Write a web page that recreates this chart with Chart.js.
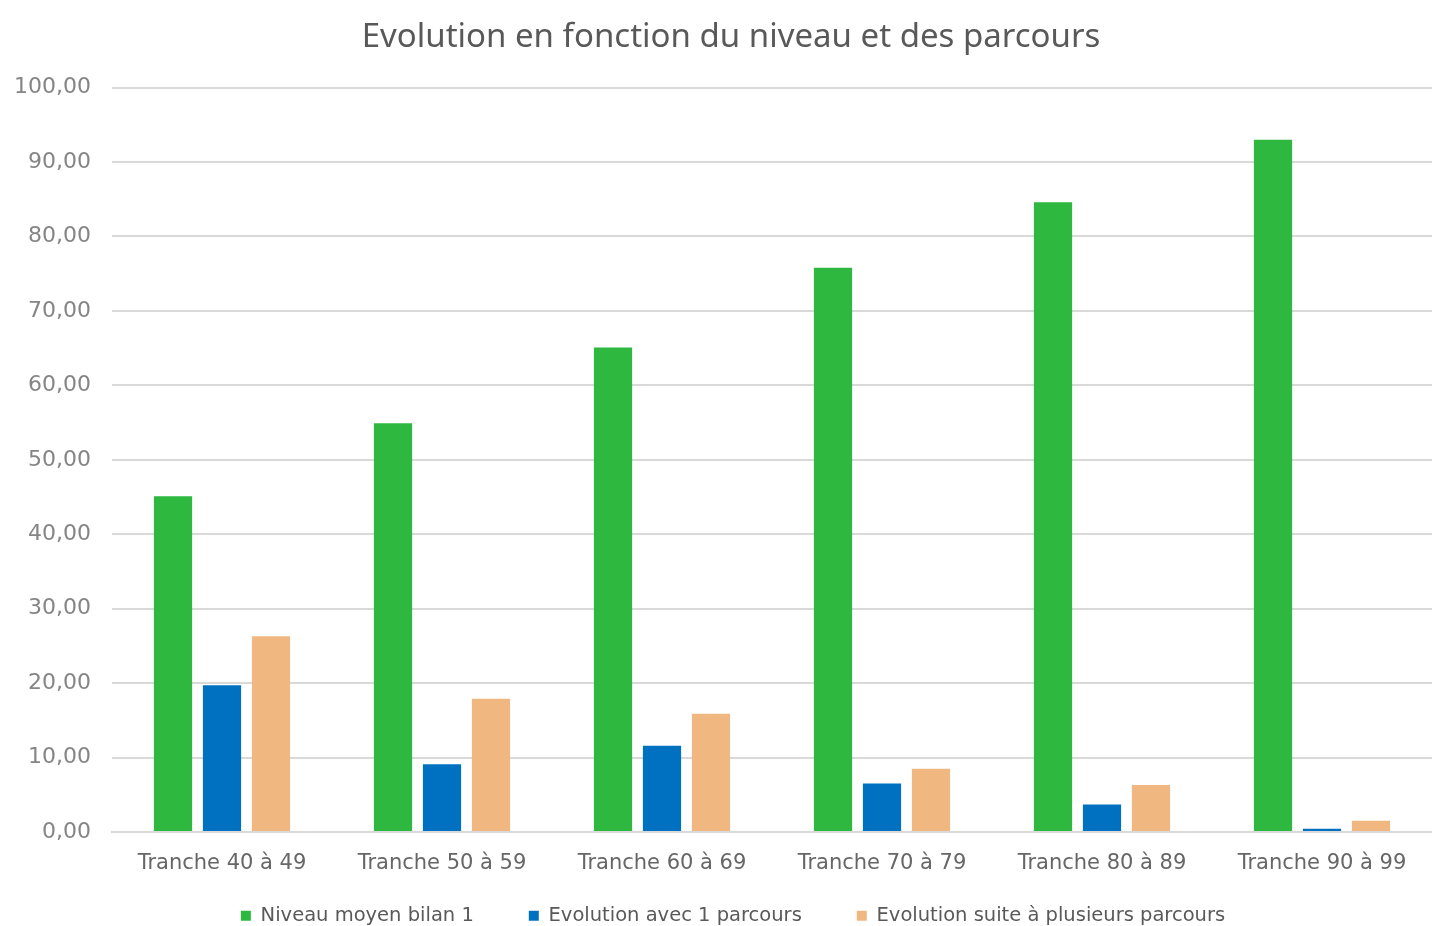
<!DOCTYPE html>
<html>
<head>
<meta charset="utf-8">
<script src="https://cdn.jsdelivr.net/npm/chart.js@4"></script>
<style>
  html, body { margin: 0; padding: 0; background: #fff; }
  #wrap { width: 1432px; height: 926px; position: relative; }
</style>
</head>
<body>
<div id="wrap"><canvas id="myChart"></canvas></div>
<script>
// data
const labels = ['Tranche 40 à 49', 'Tranche 50 à 59', 'Tranche 60 à 69', 'Tranche 70 à 79', 'Tranche 80 à 89', 'Tranche 90 à 99'];
const niveauMoyen = [45.1, 54.9, 65.1, 75.8, 84.6, 93.0];
const evolUnParcours = [19.7, 9.1, 11.6, 6.5, 3.7, 0.45];
const evolPlusieurs = [26.3, 17.9, 15.9, 8.5, 6.3, 1.5];

const seriesNames = ['Niveau moyen bilan 1', 'Evolution avec 1 parcours', 'Evolution suite à plusieurs parcours'];
const colors = ['#2eb840', '#0070c0', '#f0b780'];

const titleFont = "'Noto Sans', sans-serif";
const textFont = "'DejaVu Sans', sans-serif";

// legend: wide gaps between items but a short layout box,
// then stretch its (clipped) box upwards so the row lands near the bottom
const legendSpacing = {
  id: 'legendSpacing',
  afterInit(chart) {
    const lg = chart.legend;
    const fit = lg.fit;
    lg.fit = function () {
      fit.call(this);
      this.height = 50;
    };
  },
  afterLayout(chart) {
    const lg = chart.legend;
    lg.top = 851;
    lg.bottom = 926;
    lg.left += 11;
    lg.right += 11;
    // title sits a little right of the canvas centre in the original
    const t = chart.titleBlock;
    t.left += 9;
    t.right += 9;
  }
};

const data = {
  labels: labels,
  datasets: [niveauMoyen, evolUnParcours, evolPlusieurs].map(function (vals, i) {
    return {
      label: seriesNames[i],
      data: vals,
      backgroundColor: colors[i],
      borderWidth: 0,
      categoryPercentage: 0.668,
      barPercentage: 0.78
    };
  })
};

const config = {
  type: 'bar',
  data: data,
  plugins: [legendSpacing],
  options: {
    responsive: true,
    maintainAspectRatio: false,
    animation: false,
    layout: { padding: { top: 8, right: 0, bottom: 0, left: 12 } },
    plugins: {
      title: {
        display: true,
        text: 'Evolution en fonction du niveau et des parcours',
        color: '#595959',
        font: { family: titleFont, size: 33, weight: 'normal' },
        padding: { top: 10, bottom: 30 }
      },
      legend: {
        position: 'bottom',
        labels: {
          color: '#595959',
          font: { family: textFont, size: 19.5 },
          boxWidth: 10,
          boxHeight: 10,
          padding: 55
        }
      },
      tooltip: { enabled: false }
    },
    scales: {
      x: {
        grid: { display: false, drawTicks: false },
        border: { color: '#d9d9d9', width: 2 },
        ticks: { color: '#666666', font: { family: textFont, size: 21 }, padding: 19 },
        afterFit: function (scale) { scale.height = 44; }
      },
      y: {
        min: 0,
        max: 100,
        grid: { color: '#d9d9d9', lineWidth: 2, drawTicks: false },
        border: { display: false },
        afterFit: function (scale) { scale.width = 100; },
        ticks: {
          stepSize: 10,
          padding: 21,
          color: '#858585',
          font: { family: textFont, size: 22 },
          callback: function (v) { return v.toFixed(2).replace('.', ','); }
        }
      }
    }
  }
};

const myChart = new Chart(document.getElementById('myChart'), config);
</script>
</body>
</html>
